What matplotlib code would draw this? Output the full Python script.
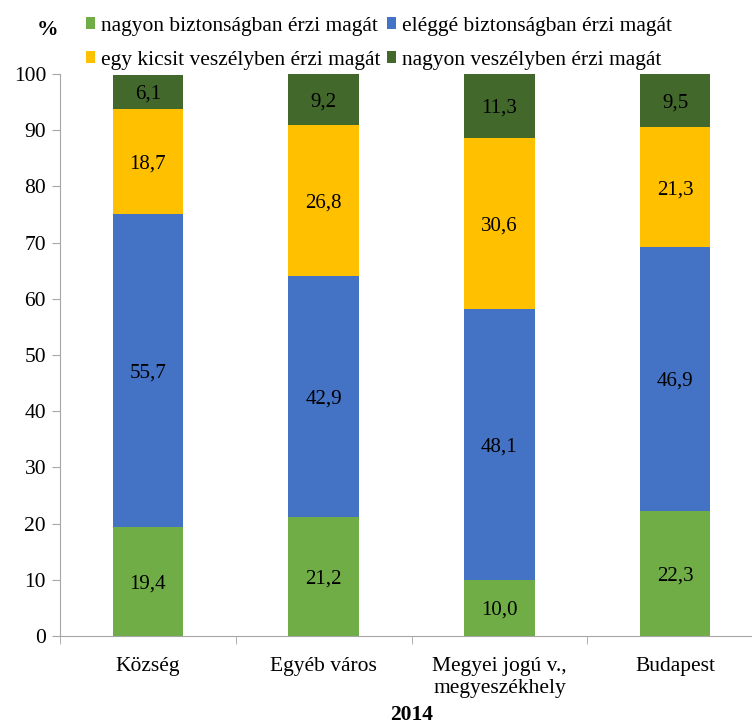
import matplotlib
matplotlib.use("Agg")
import matplotlib.pyplot as plt
from matplotlib.patches import Patch
import numpy as np

plt.rcParams['font.family'] = ['Liberation Serif', 'DejaVu Serif']

categories = ["Község", "Egyéb város", "Megyei jogú v.,\nmegyeszékhely", "Budapest"]
series_names = ["nagyon biztonságban érzi magát", "eléggé biztonságban érzi magát",
                "egy kicsit veszélyben érzi magát", "nagyon veszélyben érzi magát"]
very_safe = [19.4, 21.2, 10.0, 22.3]
fairly_safe = [55.7, 42.9, 48.1, 46.9]
bit_danger = [18.7, 26.8, 30.6, 21.3]
very_danger = [6.1, 9.2, 11.3, 9.5]
colors = ["#70AD47", "#4472C4", "#FFC000", "#43682B"]
yticks = [0, 10, 20, 30, 40, 50, 60, 70, 80, 90, 100]

FS = 15.5

fig = plt.figure(figsize=(7.52, 7.25), dpi=100)
ax = fig.add_axes([60/752, 89/725, 703/752, 562/725])

x = np.arange(len(categories))
bottom = np.zeros(len(categories))
handles = []
for vals, col, name in zip([very_safe, fairly_safe, bit_danger, very_danger], colors, series_names):
    v = np.array(vals)
    ax.bar(x, v, width=0.4, bottom=bottom, color=col, label=name)
    for xi, b, val in zip(x, bottom, v):
        ax.text(xi, b + val / 2, f"{val:.1f}".replace(".", ","), ha="center", va="center_baseline",
                fontsize=15, color="black")
    bottom = bottom + v
    handles.append(Patch(facecolor=col, edgecolor='none', label=name))

ax.set_xlim(-0.5, 3.5)
ax.set_ylim(0, 100)
ax.set_yticks(yticks)
ax.set_yticklabels([str(t) for t in yticks], fontsize=FS)
ax.set_xticks(x)
ax.set_xticklabels(categories, fontsize=FS, linespacing=1.2)
ax.set_xticks([-0.5, 0.5, 1.5, 2.5, 3.5], minor=True)
ax.tick_params(axis='x', which='major', length=0, pad=15)
ax.tick_params(axis='x', which='minor', length=6, color='#A6A6A6')
ax.tick_params(axis='y', length=6, color='#A6A6A6', pad=4)
for s in ['top', 'right']:
    ax.spines[s].set_visible(False)
for s in ['left', 'bottom']:
    ax.spines[s].set_color('#A6A6A6')
ax.set_xlabel("2014", fontsize=FS, fontweight='bold', labelpad=5)

fig.text(48/752, 1 - 30/725, "%", fontsize=FS, fontweight='bold', ha='center', va='center')

order = [handles[0], handles[2], handles[1], handles[3]]
fig.legend(handles=order, loc='upper left', bbox_to_anchor=(77/752, 1 - 8/725), ncol=2,
           frameon=False, fontsize=FS, handlelength=0.45, handleheight=0.45, handletextpad=0.25,
           columnspacing=0.3, labelspacing=0.7, borderaxespad=0)

fig.savefig("out.png", dpi=100)
